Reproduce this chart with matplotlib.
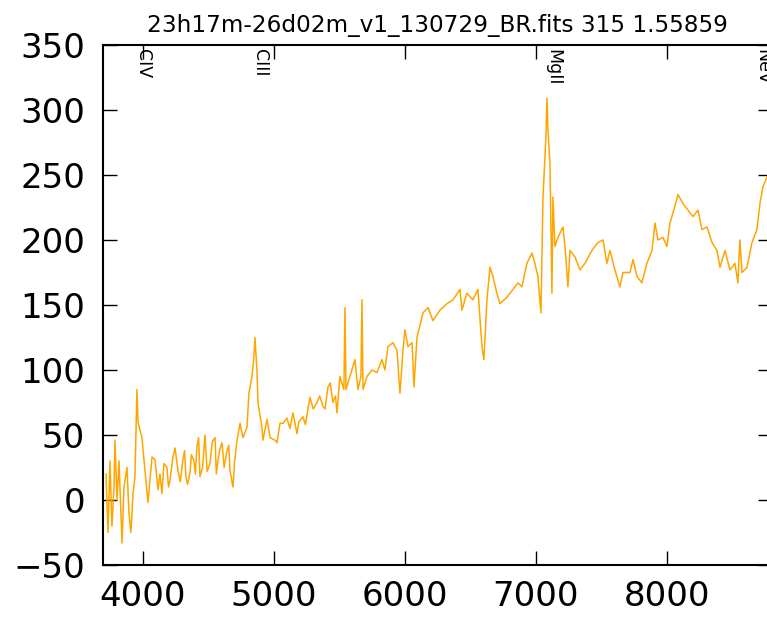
#%%

import numpy as np
import matplotlib
matplotlib.use('Agg')
import matplotlib.pyplot as plt


# %%

wave = [3718, 3733, 3748, 3763, 3779, 3786, 3802, 3817, 3840, 3855,
        3878, 3893, 3908, 3924, 3939, 3954, 3962, 3977, 3992, 4015,
        4038, 4053, 4069, 4092, 4115, 4130, 4145, 4160, 4183, 4195,
        4206, 4229, 4245, 4267, 4285, 4305, 4318, 4328, 4340, 4359,
        4370, 4389, 4400, 4412, 4425, 4435, 4455, 4473, 4490, 4511,
        4530, 4550, 4560, 4573, 4590, 4603, 4620, 4641, 4655, 4664,
        4687, 4700, 4718, 4741, 4763, 4794, 4809,
        4832, 4847, 4855, 4863, 4870, 4878, 4908, 4916, 4947, 4970,
        5008, 5023, 5046, 5069, 5099, 5122, 5145, 5176, 5190, 5221,
        5240, 5275, 5300, 5328, 5350, 5374, 5390, 5412, 5430, 5450,
        5470, 5481, 5504, 5534, 5542, 5550, 5580,
        5618, 5641, 5664, 5672, 5680, 5710, 5748, 5786, 5825, 5847,
        5870, 5909, 5939, 5962, 5985, 6000, 6023, 6054, 6069, 6092,
        6138, 6176, 6214, 6267, 6321, 6367, 6420, 6435, 6473, 6519,
        6557, 6588, 6603, 6626, 6649, 6672, 6702, 6725, 6779, 6825,
        6863, 6893, 6931, 6970, 6992, 7015, 7038, 7054, 7076, 7084,
        7092, 7099, 7107, 7122, 7130, 7145, 7168, 7206, 7222, 7244,
        7260, 7298, 7336, 7374, 7428, 7473, 7512, 7542, 7565, 7603,
        7641, 7664, 7718, 7741, 7771, 7809, 7847, 7886, 7909, 7931,
        7970, 8000, 8023, 8061, 8084, 8122, 8160, 8199, 8237, 8267,
        8306, 8344, 8382, 8405, 8443, 8481, 8519, 8542, 8557, 8573,
        8611, 8649, 8687, 8710, 8733, 8763, 8800]
flux = [20, -25, 30, -20, 10, 46, 0, 30, -33, 10,
        25, -10, -25, 5, 18, 85, 60, 54, 48, 23,
        -2, 15, 33, 31, 8, 20, 5, 28, 25, 10,
        15, 33, 40, 23, 14, 31, 38, 18, 12, 21,
        35, 30, 20, 41, 48, 18, 25, 50, 22, 28,
        45, 48, 20, 31, 40, 44, 25, 38, 42, 23,
        10, 30, 46, 59, 48, 56, 82,
        95, 110, 125, 112, 100, 75, 56, 46, 62, 48,
        46, 44, 59, 59, 63, 55, 67, 51, 60, 64,
        58, 79, 70, 75, 80, 72, 70, 87, 90, 75,
        80, 67, 95, 85, 148, 85, 95,
        108, 85, 95, 154, 85, 95, 100, 98, 108, 100,
        118, 121, 115, 82, 115, 131, 118, 121, 87, 125,
        144, 148, 138, 146, 151, 154, 162, 146, 159, 154,
        162, 118, 108, 154, 179, 172, 159, 151, 156, 162,
        167, 164, 182, 190, 182, 172, 144, 233, 279, 309,
        285, 272, 259, 159, 233, 195, 202, 210, 195, 164,
        192, 187, 177, 182, 192, 198, 200, 182, 192, 177,
        164, 175, 175, 185, 172, 167, 182, 192, 213, 200,
        202, 195, 213, 226, 235, 228, 223, 218, 223, 208,
        210, 198, 192, 179, 192, 177, 182, 167, 200, 175,
        179, 198, 208, 228, 241, 248, 255]

# emission line markers
line_names = ['CIV', 'CIII', 'MgII', 'NeV']
line_waves = [4000, 4890, 7135, 8730]

title = '23h17m-26d02m_v1_130729_BR.fits 315 1.55859'


#%%

fig = plt.figure(figsize=(7.67, 6.17), dpi=100)
ax = fig.add_axes([0.1343, 0.0843, 0.8722, 0.8428])

ax.plot(wave, flux, color='orange', linewidth=1.1)

ax.set_xlim([3695, 8802])
ax.set_ylim([-50, 350])
ax.set_xticks([4000, 5000, 6000, 7000, 8000])
ax.set_yticks(np.arange(-50, 351, 50))

# old-style ticks: inward, on all four sides
ax.tick_params(axis='both', which='major', direction='in', length=10, width=1,
               top=True, right=True, labelsize=24.5)
ax.tick_params(axis='x', pad=11)
ax.tick_params(axis='y', pad=13)
for sp in ax.spines.values():
    sp.set_linewidth(1.5)

ax.set_title(title, fontsize=16.7, pad=9)

# line labels hanging from the top of the axes (NeV runs off the edge, as in the original)
for name, w in zip(line_names, line_waves):
    ax.text(w, 347, name, rotation=270, ha='center', va='top', fontsize=12.5)

plt.savefig('out.png', dpi=100)
